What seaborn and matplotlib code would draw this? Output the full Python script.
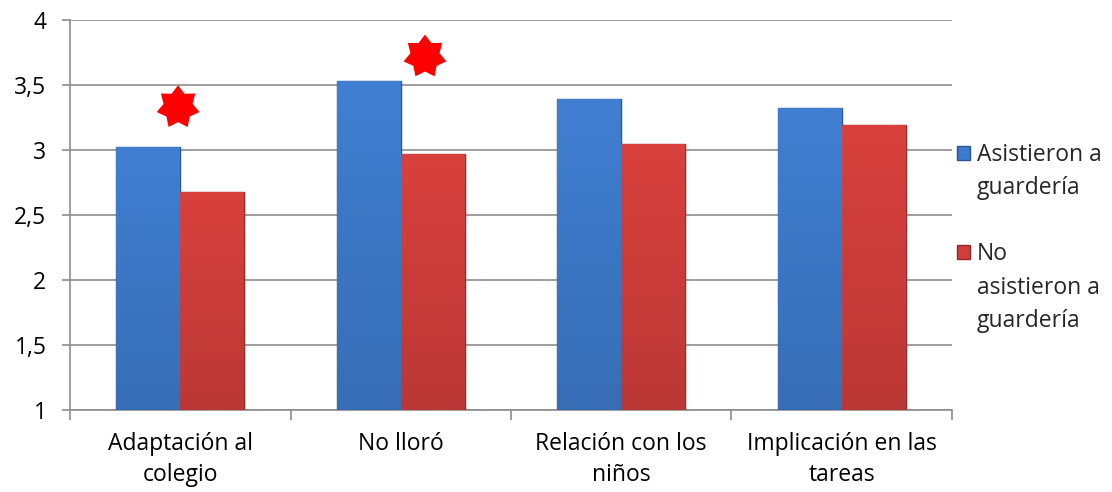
import matplotlib.pyplot as plt
import matplotlib.colors as mcolors
from matplotlib.path import Path
from matplotlib.patches import Patch
import numpy as np
import pandas as pd
import seaborn as sns

# Datos
categorias = ["Adaptación al\ncolegio", "No lloró", "Relación con los\nniños", "Implicación en las\ntareas"]
grupos = ["Asistieron a guardería", "No asistieron a guardería"]
asistieron = [3.02, 3.53, 3.39, 3.32]
no_asistieron = [2.68, 2.97, 3.05, 3.19]
# estrellas de significación
estrella_x = [-0.01, 1.11]
estrella_y = [3.33, 3.72]

colores = ["#3D7ACA", "#D03E3B"]

df = pd.DataFrame({
    "categoria": categorias * 2,
    "grupo": [grupos[0]] * 4 + [grupos[1]] * 4,
    "valor": asistieron + no_asistieron,
})

sns.set_theme(style="white")
plt.rcParams["font.family"] = ["Open Sans", "DejaVu Sans"]

fig = plt.figure(figsize=(11.12, 4.92), dpi=100)
ax = fig.add_axes([0.063, 0.167, 0.793, 0.792])

sns.barplot(data=df, x="categoria", y="valor", hue="grupo", palette=colores,
            width=0.58, ax=ax, legend=False, zorder=3)

# degradado vertical suave en cada barra
for patch, color in zip(ax.patches, [colores[0]] * 4 + [colores[1]] * 4):
    x0, w, h = patch.get_x(), patch.get_width(), patch.get_height()
    if w == 0:
        continue
    base = np.array(mcolors.to_rgb(color))
    arriba = np.clip(base * 1.04, 0, 1)
    abajo = base * 0.9
    t = np.linspace(0, 1, 64)[:, None]
    col = arriba * (1 - t) + abajo * t
    img = np.tile(col[:, None, :], (1, 2, 1))
    im = ax.imshow(img, extent=[x0, x0 + w, 1, patch.get_y() + h], aspect="auto",
                   zorder=3, interpolation="bilinear")
    im.set_clip_path(patch)
    patch.set_edgecolor(tuple(base * 0.7))
    patch.set_linewidth(1.0)

# estrella de 7 puntas
n = 7
ang = np.pi / 2 + np.arange(2 * n) * np.pi / n
rad = np.where(np.arange(2 * n) % 2 == 0, 1.0, 0.68)
verts = np.column_stack([rad * np.cos(ang), rad * np.sin(ang)])
verts = np.vstack([verts, verts[:1]])
estrella = Path(verts, [Path.MOVETO] + [Path.LINETO] * (2 * n - 1) + [Path.CLOSEPOLY])

ax.scatter(estrella_x, estrella_y, marker=estrella, s=1000, color="#FF0000",
           edgecolor="none", zorder=5)

ax.set_ylim(1, 4)
ax.set_xlim(-0.5, 3.5)
ax.set_yticks(np.arange(1, 4.01, 0.5))
ax.set_yticklabels(["1", "1,5", "2", "2,5", "3", "3,5", "4"])
ax.grid(axis="y", color="#8C8C8C", linewidth=1.2, zorder=0)
ax.set_axisbelow(True)
ax.set_xlabel("")
ax.set_ylabel("")

for s in ["top", "right"]:
    ax.spines[s].set_visible(False)
for s in ["left", "bottom"]:
    ax.spines[s].set_color("#8C8C8C")
    ax.spines[s].set_linewidth(1.2)

ax.set_xticks(np.arange(-0.5, 3.6, 1), minor=True)
ax.tick_params(axis="x", which="minor", length=7, width=1.2, color="#8C8C8C", direction="out", bottom=True)
ax.tick_params(axis="x", which="major", length=0, labelsize=16.5, pad=16, colors="black")
ax.tick_params(axis="y", length=6, width=1.2, color="#8C8C8C", direction="out", left=True,
               labelsize=16.5, colors="black", pad=11)
for lab in ax.get_xticklabels():
    lab.set_linespacing(1.4)

# leyenda: una fila por línea de texto, el cuadro solo en la primera
vacio = Patch(facecolor="none", edgecolor="none")
handles = [Patch(facecolor=colores[0], edgecolor="#2A5590"), vacio, vacio,
           Patch(facecolor=colores[1], edgecolor="#8E2A28"), vacio, vacio]
labels = ["Asistieron a", "guardería", " ", "No", "asistieron a", "guardería"]
ax.legend(handles, labels, loc="upper left", bbox_to_anchor=(1.006, 0.685), frameon=False,
          fontsize=16.5, handlelength=0.55, handleheight=0.55, handletextpad=0.3,
          labelspacing=0.4, borderaxespad=0.0, borderpad=0.0)

fig.savefig("out.png", dpi=100)
